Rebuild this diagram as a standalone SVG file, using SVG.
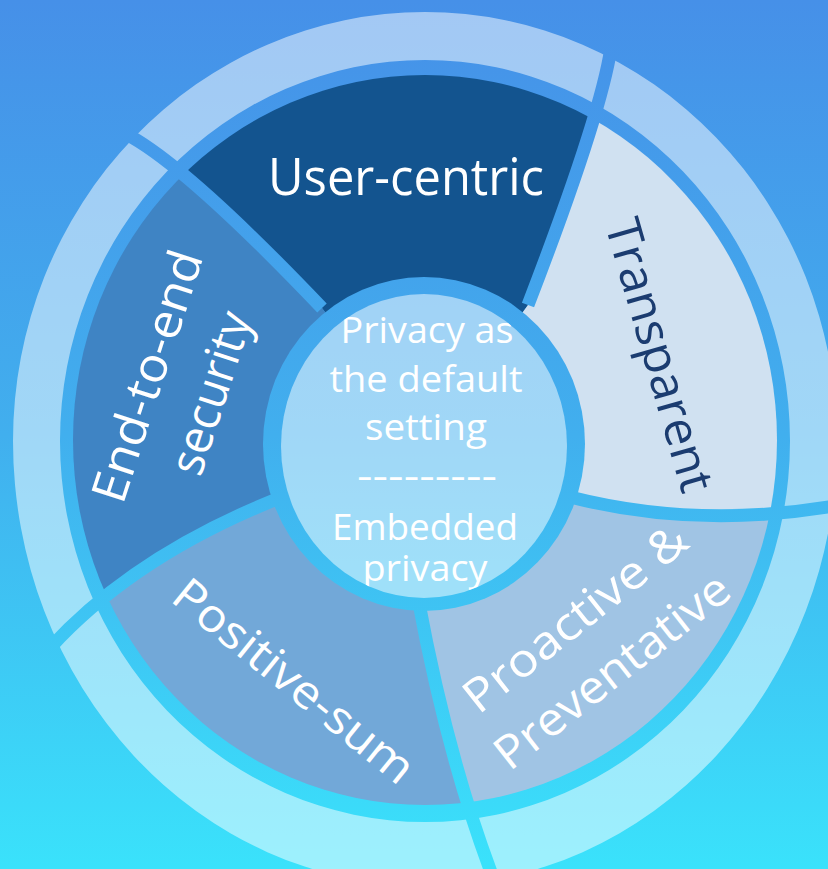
<svg xmlns="http://www.w3.org/2000/svg" width="828" height="869" viewBox="0 0 828 869">
<defs>
<linearGradient id="bg" gradientUnits="userSpaceOnUse" x1="0" y1="0" x2="0" y2="869">
<stop offset="0" stop-color="#4690E8"/>
<stop offset="0.5" stop-color="#41AFEE"/>
<stop offset="1" stop-color="#3AE2FB"/>
</linearGradient>
<clipPath id="diskClip"><ellipse cx="425" cy="440" rx="352" ry="365"/></clipPath>
<clipPath id="centerClip"><ellipse cx="424" cy="446" rx="143" ry="152"/></clipPath>
<style>
.sep{fill:none;stroke:url(#bg);stroke-width:13}
.lbl{font-family:"Open Sans","Noto Sans","Liberation Sans",sans-serif;fill:#fff}
.dark{fill:#1B3C70}
</style>
</defs>
<rect width="828" height="869" fill="url(#bg)"/>
<g id="outer-ring">
<path d="M13,441 A412,429 0 0 1 837,441 A412,445 0 0 1 13,441 Z M60,441 A365,381 0 0 1 790,441 A365,381 0 0 1 60,441 Z" fill="#fff" fill-opacity="0.5" fill-rule="evenodd"/>
</g>
<g clip-path="url(#diskClip)">
<g id="user-centric"><path d="M425,446 L322,308 Q179,158 120,131 L0,131 L0,0 L612,0 L612,40 Q605,105 528,305 Z" fill="#13548F"/></g>
<g id="transparent"><path d="M425,446 L528,305 Q605,105 612,40 L612,0 L860,0 L860,505 L840,505 Q700,530 570,497 Z" fill="#D0E1F1"/></g>
<g id="proactive"><path d="M425,446 L570,497 Q700,530 840,505 L860,505 L860,880 L494,880 Q448,760 418,598 Z" fill="#A0C4E4"/></g>
<g id="positive-sum"><path d="M425,446 L418,598 Q448,760 494,880 L0,880 L0,648 L50,648 Q135,555 282,497 Z" fill="#72A8D8"/></g>
<g id="end-to-end"><path d="M425,446 L282,497 Q135,555 50,648 L0,648 L0,131 L120,131 Q179,158 322,308 Z" fill="#3F84C4"/></g>
</g>
<g id="connectors">
<path class="sep" d="M97,121 L120,131 Q179,158 322,308"/>
<path class="sep" d="M614,20 L612,40 Q605,105 528,305"/>
<path class="sep" d="M570,497 Q700,530 840,505"/>
<path class="sep" d="M418,598 Q448,760 494,880"/>
<path class="sep" d="M282,497 Q135,555 50,648 L38,661"/>
</g>
<g id="center">
<ellipse cx="424" cy="444" rx="161" ry="167" fill="url(#bg)"/>
<ellipse cx="424" cy="446" rx="143" ry="152" fill="#fff" fill-opacity="0.5"/>
<g clip-path="url(#centerClip)" class="lbl" font-size="36" text-anchor="middle">
<text x="427" y="343" textLength="173" lengthAdjust="spacingAndGlyphs">Privacy as</text>
<text x="426" y="392" textLength="193" lengthAdjust="spacingAndGlyphs">the default</text>
<text x="426" y="440" textLength="122" lengthAdjust="spacingAndGlyphs">setting</text>
<text x="427" y="489" textLength="140" lengthAdjust="spacingAndGlyphs">---------</text>
<text x="425" y="540" textLength="186" lengthAdjust="spacingAndGlyphs">Embedded</text>
<text x="425" y="581" textLength="125" lengthAdjust="spacingAndGlyphs">privacy</text>
</g>
</g>
<g id="labels">
<text class="lbl" x="406" y="195" font-size="52" text-anchor="middle" textLength="276" lengthAdjust="spacingAndGlyphs">User-centric</text>
<text class="lbl dark" transform="translate(660,355) rotate(74)" x="0" y="17" font-size="48" text-anchor="middle" textLength="282" lengthAdjust="spacingAndGlyphs">Transparent</text>
<text class="lbl" transform="translate(147,376) rotate(-72)" x="0" y="17" font-size="48" text-anchor="middle" textLength="262" lengthAdjust="spacingAndGlyphs">End-to-end</text>
<text class="lbl" transform="translate(214,394) rotate(-72)" x="0" y="13" font-size="48" text-anchor="middle" textLength="168" lengthAdjust="spacingAndGlyphs">security</text>
<text class="lbl" transform="translate(294,681) rotate(39)" x="0" y="16" font-size="46" text-anchor="middle" textLength="296" lengthAdjust="spacingAndGlyphs">Positive-sum</text>
<text class="lbl" transform="translate(575,618) rotate(-38.5)" x="0" y="16" font-size="46" text-anchor="middle" textLength="272" lengthAdjust="spacingAndGlyphs">Proactive &amp;</text>
<text class="lbl" transform="translate(612,671) rotate(-38.2)" x="0" y="16" font-size="46" text-anchor="middle" textLength="286" lengthAdjust="spacingAndGlyphs">Preventative</text>
</g>
</svg>
